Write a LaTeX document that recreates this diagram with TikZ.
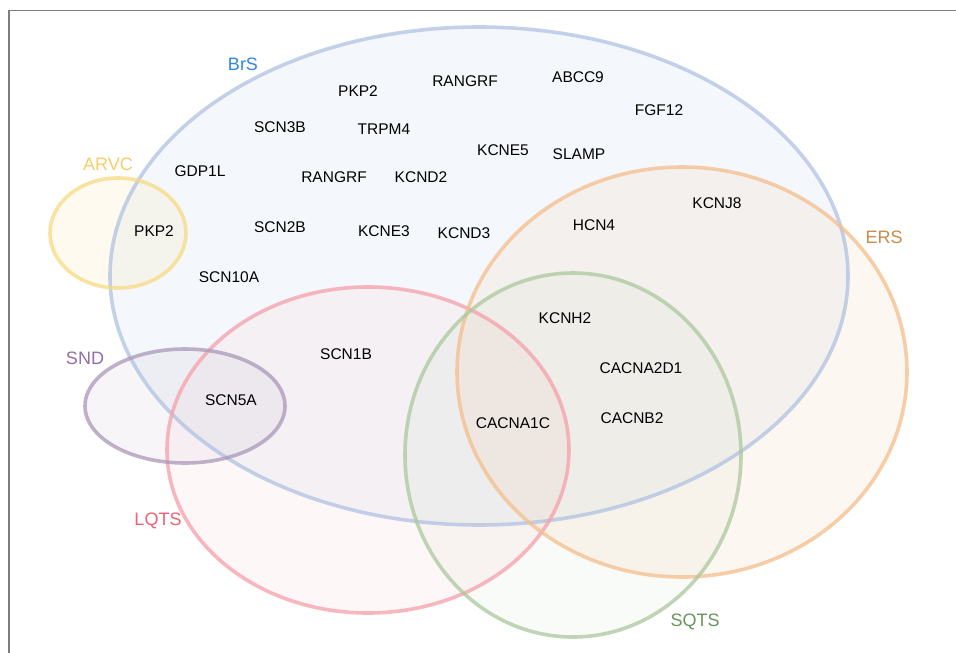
\documentclass[tikz,border=0pt]{standalone}
\usepackage{fontspec}
\setmainfont{Liberation Sans}
\definecolor{brsline}{RGB}{176,194,226}
\definecolor{brstext}{RGB}{45,135,235}
\definecolor{arvcline}{RGB}{247,218,130}
\definecolor{arvctext}{RGB}{247,205,105}
\definecolor{sndline}{RGB}{170,152,184}
\definecolor{sndtext}{RGB}{150,110,165}
\definecolor{lqtsline}{RGB}{246,160,170}
\definecolor{lqtstext}{RGB}{240,95,115}
\definecolor{ersline}{RGB}{245,190,140}
\definecolor{erstext}{RGB}{200,140,75}
\definecolor{sqtsline}{RGB}{172,200,158}
\definecolor{sqtstext}{RGB}{105,150,90}
\definecolor{framegray}{RGB}{125,125,125}
\tikzset{
  gene/.style={font=\fontsize{15.5}{18}\selectfont, text=black, inner sep=1pt},
  setlabel/.style={font=\fontsize{18}{21}\selectfont, inner sep=1pt},
  setline/.style={line width=3.6pt, draw opacity=0.75},
}
\begin{document}
\begin{tikzpicture}[x=1pt,y=-1pt]
\useasboundingbox (0,0) rectangle (956,653);
\fill[white] (0,0) rectangle (956,653);
% frame
\draw[framegray, line width=1.6pt] (9,660) -- (9,10.5) -- (960,10.5);
% fills
\fill[brsline, fill opacity=0.13] (479,276) ellipse [x radius=369pt, y radius=249pt];
\fill[arvcline, fill opacity=0.12] (118,233) ellipse [x radius=68pt, y radius=55pt];
\fill[lqtsline, fill opacity=0.08] (368,450) ellipse [x radius=201pt, y radius=163pt];
\fill[ersline, fill opacity=0.12] (682,372) ellipse [x radius=225pt, y radius=205pt];
\fill[sqtsline, fill opacity=0.07] (573,455) ellipse [x radius=168pt, y radius=182pt];
\fill[sndline, fill opacity=0.09] (185,406) ellipse [x radius=100pt, y radius=57pt];
% outlines
\draw[setline, brsline] (479,276) ellipse [x radius=369pt, y radius=249pt];
\draw[setline, arvcline] (118,233) ellipse [x radius=68pt, y radius=55pt];
\draw[setline, lqtsline] (368,450) ellipse [x radius=201pt, y radius=163pt];
\draw[setline, ersline] (682,372) ellipse [x radius=225pt, y radius=205pt];
\draw[setline, sqtsline] (573,455) ellipse [x radius=168pt, y radius=182pt];
\draw[setline, sndline] (185,406) ellipse [x radius=100pt, y radius=57pt];
% set labels
\node[setlabel, text=brstext] (lbrs) at (243,64) {BrS};
\node[setlabel, text=arvctext] (larvc) at (108,164) {ARVC};
\node[setlabel, text=sndtext] (lsnd) at (85,358) {SND};
\node[setlabel, text=lqtstext] (llqts) at (158,521) {LQTS};
\node[setlabel, text=erstext] (lers) at (884,237) {ERS};
\node[setlabel, text=sqtstext] (lsqts) at (695,622) {SQTS};
% genes
\node[gene] (g1) at (358,91) {PKP2};
\node[gene] (g2) at (465,81) {RANGRF};
\node[gene] (g3) at (578,77) {ABCC9};
\node[gene] (g4) at (659,110) {FGF12};
\node[gene] (g5) at (280,127) {SCN3B};
\node[gene] (g6) at (384,129) {TRPM4};
\node[gene] (g7) at (503,150) {KCNE5};
\node[gene] (g8) at (579,154) {SLAMP};
\node[gene] (g9) at (200,171) {GDP1L};
\node[gene] (g10) at (334,177) {RANGRF};
\node[gene] (g11) at (421,177) {KCND2};
\node[gene] (g12) at (717,203) {KCNJ8};
\node[gene] (g13) at (154,231) {PKP2};
\node[gene] (g14) at (280,227) {SCN2B};
\node[gene] (g15) at (384,231) {KCNE3};
\node[gene] (g16) at (464,233) {KCND3};
\node[gene] (g17) at (594,225) {HCN4};
\node[gene] (g18) at (229,277) {SCN10A};
\node[gene] (g19) at (565,318) {KCNH2};
\node[gene] (g20) at (346,354) {SCN1B};
\node[gene] (g21) at (641,368) {CACNA2D1};
\node[gene] (g22) at (231,400) {SCN5A};
\node[gene] (g23) at (632,418) {CACNB2};
\node[gene] (g24) at (513,423) {CACNA1C};
\end{tikzpicture}
\end{document}
